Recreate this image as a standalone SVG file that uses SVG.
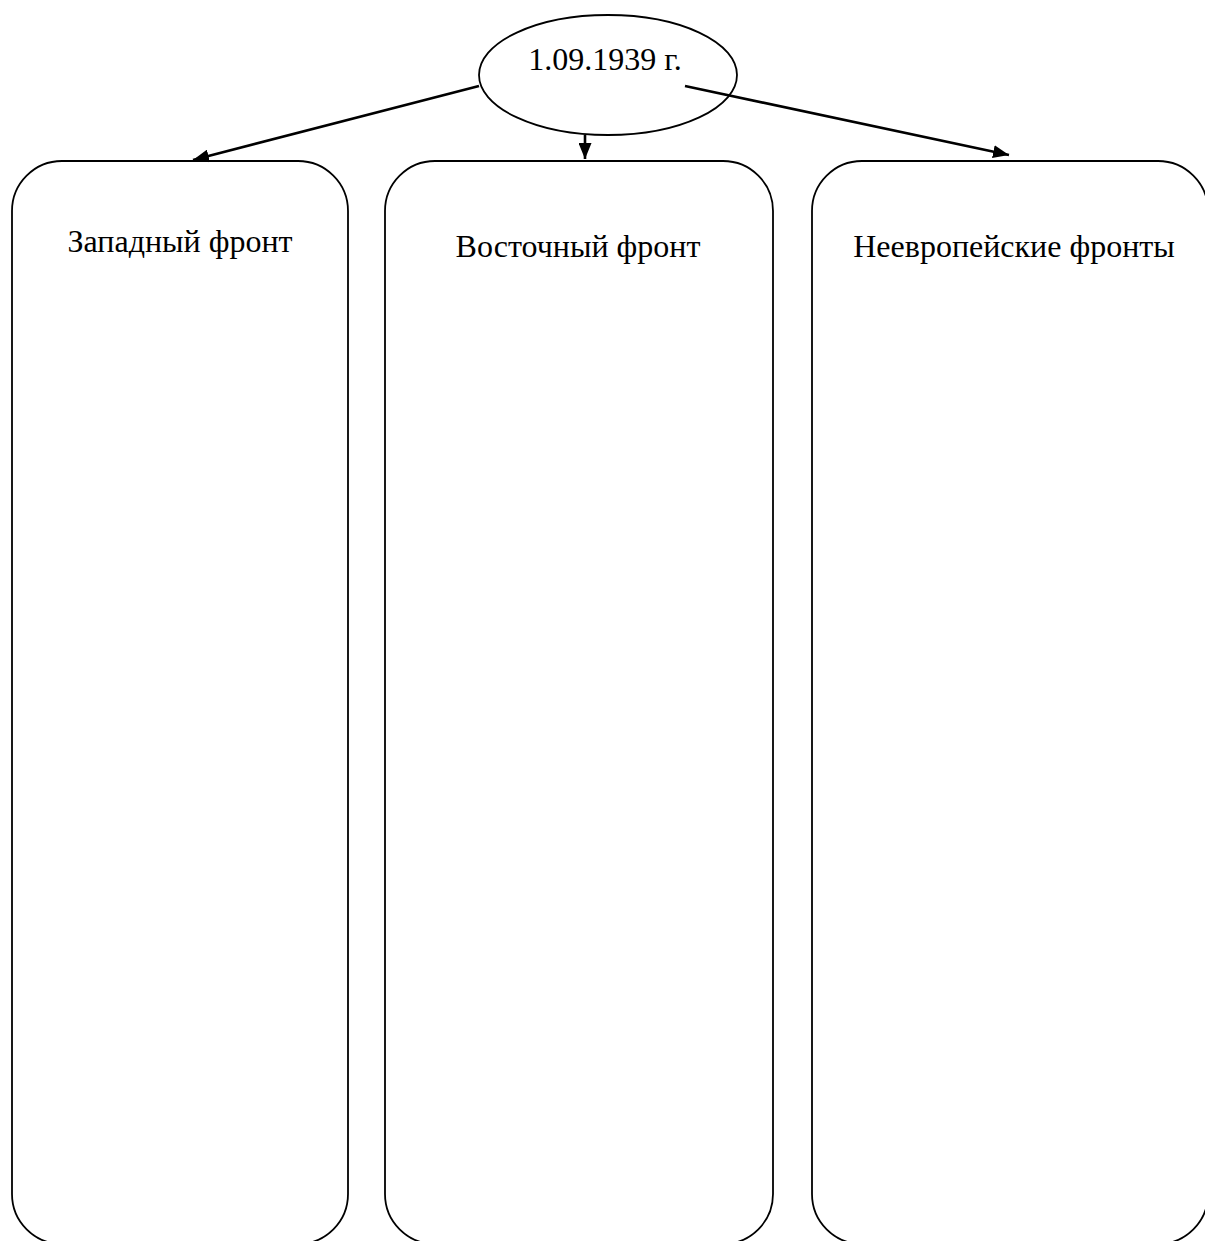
<svg xmlns="http://www.w3.org/2000/svg" width="1205" height="1241" viewBox="0 0 1205 1241">
<style>
.shape{fill:#fff;stroke:#000;stroke-width:1.8}
.lbl{font-family:"Liberation Serif","Times New Roman",serif;font-size:32px;fill:#000;text-anchor:middle}
.conn{stroke:#000;stroke-width:2.6;fill:none;marker-end:url(#ah)}
</style>
<defs>
<marker id="ah" viewBox="0 0 10 10" refX="10" refY="5" markerWidth="16" markerHeight="13" markerUnits="userSpaceOnUse" orient="auto" preserveAspectRatio="none">
<path d="M0,0 L10,5 L0,10 z" fill="#000"/>
</marker>
</defs>
<rect width="1205" height="1241" fill="#fff"/>
<g id="node-west">
<rect class="shape" x="12" y="161" width="336" height="1083" rx="50" ry="50"/>
<text class="lbl" x="180" y="252">Западный фронт</text>
</g>
<g id="node-east">
<rect class="shape" x="385" y="161" width="388" height="1083" rx="50" ry="50"/>
<text class="lbl" x="578" y="257">Восточный фронт</text>
</g>
<g id="node-noneuro">
<rect class="shape" x="812" y="161" width="396" height="1083" rx="50" ry="50"/>
<text class="lbl" x="1014" y="257">Неевропейские фронты</text>
</g>
<g id="node-date">
<ellipse class="shape" cx="608" cy="75" rx="129" ry="60"/>
<text class="lbl" x="605" y="70">1.09.1939 г.</text>
</g>
<g id="connectors">
<line class="conn" x1="479" y1="86" x2="193" y2="160"/>
<line class="conn" x1="585" y1="135" x2="585" y2="159"/>
<line class="conn" x1="685" y1="86" x2="1009" y2="155"/>
</g>
</svg>
